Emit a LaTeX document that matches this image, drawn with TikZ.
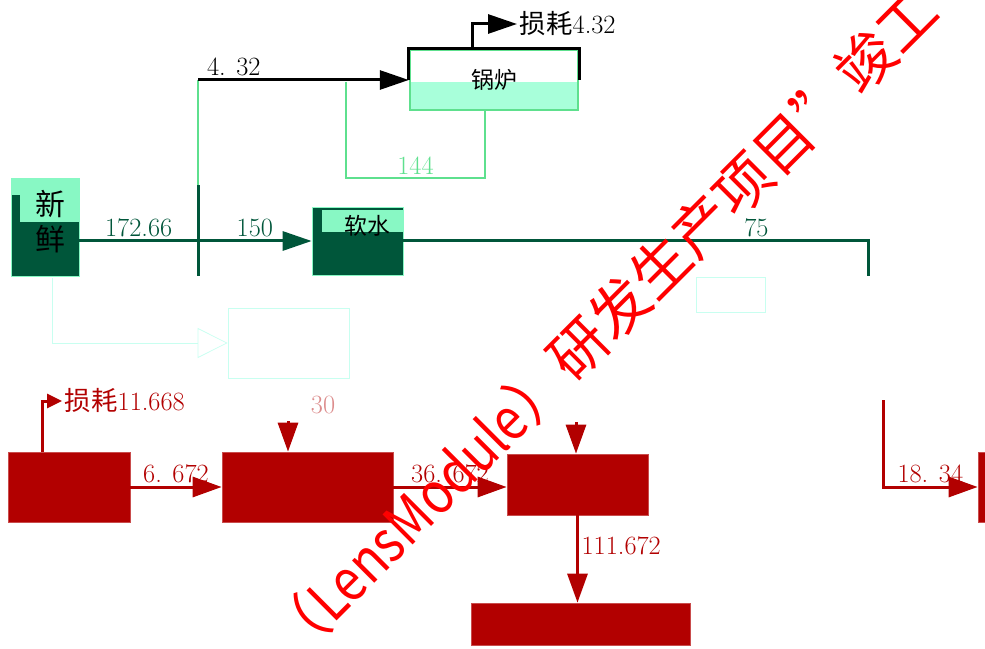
\documentclass[tikz,border=0pt]{standalone}
\usepackage{fontspec}
\usepackage{xcolor}
\usepackage{tikz}
\usetikzlibrary{arrows.meta,positioning}
\newfontfamily\cjk{Noto Sans CJK SC}
\definecolor{wbDark}{HTML}{00563A}
\definecolor{wbLight}{HTML}{88F8C4}
\definecolor{wbMint}{HTML}{A8FFDA}
\definecolor{wbLine}{HTML}{5EE08E}
\definecolor{wbRed}{HTML}{B20000}
\definecolor{wbMark}{HTML}{FF0000}
\definecolor{wbFaint}{HTML}{C8FFF0}
\tikzset{
  redbox/.style={
    rectangle,
    draw=wbRed!70,
    fill=wbRed,
    inner sep=0pt
  },
  faintbox/.style={
    rectangle,
    draw=wbFaint,
    thin,
    inner sep=0pt
  },
  num/.style={font=\fontsize{15}{17}\selectfont, inner sep=1.5pt},
  greenline/.style={line width=0.6mm, draw=wbDark},
  mintline/.style={line width=0.5mm, draw=wbLine},
  blackline/.style={line width=0.6mm, draw=black},
  flow/.style={-{Triangle[length=5.8mm,width=3.8mm]}, greenline},
  blackflow/.style={-{Triangle[length=5.8mm,width=3.8mm]}, blackline},
  redflow/.style={-{Triangle[length=5.8mm,width=4mm]}, line width=0.6mm, draw=wbRed},
  wmark/.style={font=\cjk\fontsize{33}{33}\selectfont, text=wbMark, inner sep=0pt}
}

\begin{document}
\begin{tikzpicture}[x=0.2mm, y=-0.2mm]
  \useasboundingbox (0,0) rectangle (985,649);

  % upper part: water supply
  \node[rectangle, draw=wbLight, fill=wbDark, minimum width=13.6mm, minimum height=19.6mm, inner sep=0pt,
        path picture={
          \fill[wbLight] (path picture bounding box.north west) rectangle ([yshift=-8.8mm]path picture bounding box.north east);
          \fill[wbDark] ([yshift=-3.4mm]path picture bounding box.north west) rectangle ([xshift=1.8mm,yshift=-8.8mm]path picture bounding box.north west);
        }] (fresh) at (45,227) {};
  \node[font=\cjk\fontsize{17}{20}\selectfont, align=center] (freshtxt) at (50,222) {新\\鲜};

  \node[rectangle, draw=wbLight, fill=wbDark, minimum width=18.2mm, minimum height=13.6mm, inner sep=0pt,
        path picture={
          \fill[wbLight] ([xshift=2mm,yshift=-0.6mm]path picture bounding box.north west) rectangle ([yshift=-5mm]path picture bounding box.north east);
        }] (soft) at (357.5,241) {};
  \node[font=\cjk\fontsize{13}{15}\selectfont] (softtxt) at (367,226) {软水};

  \node[rectangle, draw=wbLine, line width=0.5mm, minimum width=33.6mm, minimum height=12mm, inner sep=0pt,
        font=\cjk\fontsize{13}{15}\selectfont,
        path picture={
          \fill[wbMint] (path picture bounding box.south west) rectangle ([yshift=5.6mm]path picture bounding box.south east);
        }] (boiler) at (494,80) {锅炉};
  \draw[blackline] (boiler.west) |- (boiler.north east) -- (boiler.east);

  \node[num, anchor=west] (loss1) at (517,24) {{\cjk 损耗}4.32};
  \coordinate (bTop) at (472,50);
  \draw[blackflow] (bTop) |- (loss1.west);

  \coordinate (jA) at (198,241);
  \coordinate (jTop) at (198,80);
  \coordinate (jMid) at (198,185);
  \coordinate (jLow) at (198,276);
  \draw[greenline] (fresh.east |- jA) -- (jA) node[num, midway, above, text=wbDark] {172.66};
  \draw[flow] (jA) -- (soft.west) node[num, midway, above, text=wbDark] {150};
  \draw[greenline] (jLow) -- (jMid);
  \draw[mintline] (jMid) -- (jTop);
  \draw[blackflow] (jTop) -- (jTop -| boiler.west) node[num, pos=0.17, above] {4. 32};

  \coordinate (rT) at (346,82);
  \coordinate (rBot) at (485,178);
  \draw[mintline] (rT) |- (rBot) node[num, pos=0.75, above, text=wbLine] {144} -- (rBot |- boiler.south);

  \coordinate (rG) at (868,276);
  \draw[greenline] (soft.east) -| (rG) node[num, pos=0.38, above, text=wbDark] {75};

  % faint middle part
  \node[faintbox, minimum width=24.2mm, minimum height=14mm] (faintA) at (288.5,343) {};
  \node[faintbox, minimum width=13.8mm, minimum height=7mm] (faintB) at (731,295) {};
  \coordinate (fB) at (52,278);
  \draw[wbFaint, thin, -{Triangle[open,length=6mm,width=6mm]}] (fB) |- (faintA.west);

  % lower part: drainage
  \node[redbox, minimum width=24.4mm, minimum height=14mm] (tankA) at (69,487) {};
  \node[redbox, minimum width=34.2mm, minimum height=14mm] (tankB) at (307.5,487) {};
  \node[redbox, minimum width=28.2mm, minimum height=12.2mm] (tankC) at (577.5,484.5) {};
  \node[redbox, minimum width=43.8mm, minimum height=8.4mm] (tankD) at (580.5,624) {};
  \node[redbox, minimum width=1.4mm, minimum height=14mm] (outlet) at (981.5,487) {};

  \node[num, anchor=west, text=wbRed] (loss2) at (62,401) {{\cjk 损耗}11.668};
  \coordinate (lA) at (42,452);
  \draw[-{Triangle[length=3mm,width=2.8mm]}, line width=0.6mm, draw=wbRed] (lA) |- (loss2.west);

  \draw[redflow] (tankA.east) -- (tankB.west) node[num, midway, above, text=wbRed] {6. 672};
  \draw[redflow] (tankB.east) -- (tankB.east -| tankC.west) node[num, midway, above, text=wbRed] {36. 672};

  \coordinate (inB) at (288,421);
  \node[num, text=wbRed!45] (lblB) at (323,405) {30};
  \draw[redflow] (inB) -- (inB |- tankB.north);
  \coordinate (inC) at (576,422);
  \draw[redflow] (inC) -- (inC |- tankC.north);
  \draw[redflow] (tankC.south) -- (tankC.south |- tankD.north) node[num, pos=0.35, right, text=wbRed] {111.672};

  \coordinate (rB) at (883,400);
  \draw[redflow] (rB) |- (outlet.west) node[num, pos=0.75, above, text=wbRed] {18. 34};

  % watermark
  \begin{scope}
    \clip (0,0) rectangle (985,649);
    \node[wmark, rotate=45, anchor=base west] (mark) at (292,666) {（\scalebox{0.86}[1]{LensModule}）研发生产项目”竣工};
  \end{scope}
\end{tikzpicture}
\end{document}
